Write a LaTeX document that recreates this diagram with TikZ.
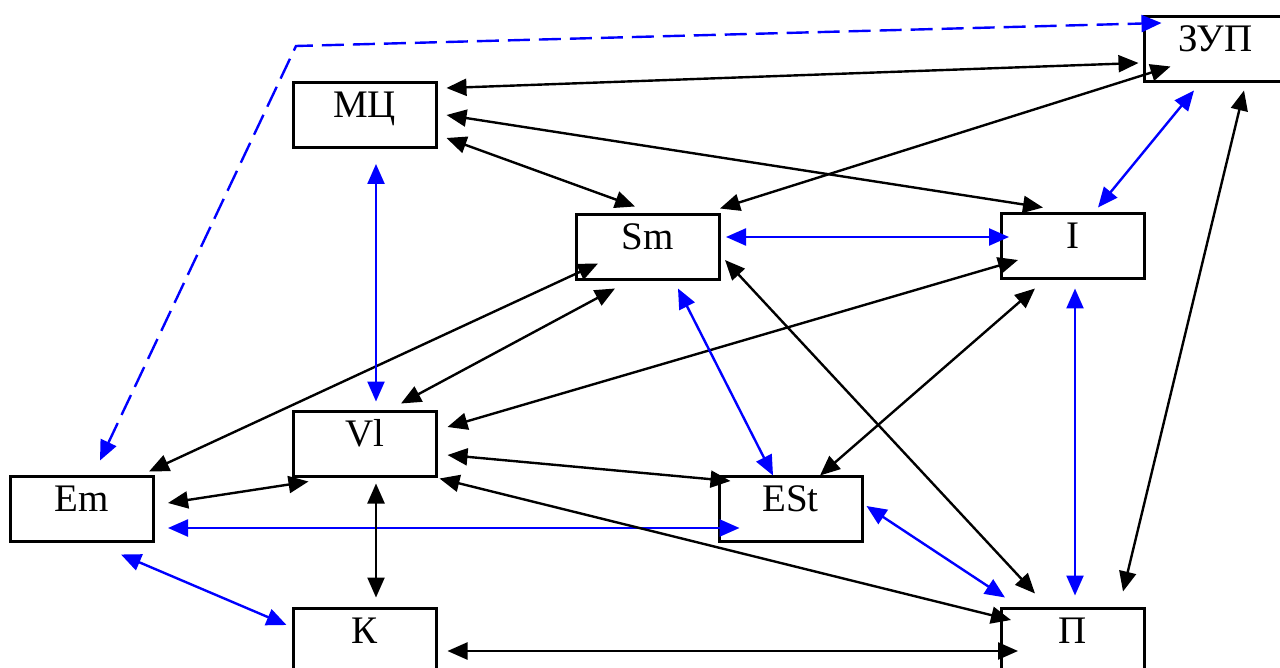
\documentclass[tikz,border=0pt]{standalone}
\usepackage{fontspec}
\setmainfont{Liberation Serif}
\usetikzlibrary{arrows.meta}
\tikzset{
    box/.style={
        draw,
        rectangle,
        line width=1.5pt,
        minimum width=71.5pt,
        inner xsep=0pt,
        inner ysep=0pt,
        text height=17.5pt,
        text depth=15pt,
        font=\fontsize{19.5}{23}\selectfont
    },
    link/.style={
        {Triangle[length=10pt, width=8.5pt]}-{Triangle[length=10pt, width=8.5pt]},
        line width=1.2pt
    },
    bluelink/.style={
        link,
        blue
    }
}

\begin{document}
\begin{tikzpicture}[x=0.5pt, y=-0.5pt]
    \useasboundingbox (0,0) rectangle (1280,668);
    \clip (0,0) rectangle (1280,668);

    \node[box] (zup) at (1215.5,49.5) {ЗУП};
    \node[box] (mc) at (364.5,115) {МЦ};
    \node[box] (sm) at (648,247.5) {Sm};
    \node[box] (i) at (1073,246.5) {I};
    \node[box] (vl) at (364.5,443.5) {Vl};
    \node[box] (em) at (82,508.5) {Em};
    \node[box] (est) at (790.5,508.5) {ESt};
    \node[box] (k) at (364.5,640.5) {К};
    \node[box] (p) at (1073,640.5) {П};

    \coordinate (bend) at (296,46);
    \draw[bluelink, dash pattern=on 11pt off 4.5pt] ([shift={(18,-14)}]em.north) -- (bend) -- ([shift={(19,-26.5)}]zup.west); % dashed line round the top

    \draw[link] ([shift={(9,-27)}]mc.east) -- ([shift={(-4,13.5)}]zup.west);
    \draw[link] ([shift={(9,0)}]mc.east) -- ([shift={(-30,-5)}]i.north);
    \draw[link] ([shift={(9,23)}]mc.east) -- ([shift={(-13,-7)}]sm.north);
    \draw[link] ([shift={(-1,-5)}]sm.north east) -- ([shift={(28,-17)}]zup.south west);
    \draw[bluelink] ([shift={(25,-5)}]i.north) -- ([shift={(-21.5,7)}]zup.south);
    \draw[link] ([shift={(50,-15)}]p.north) -- ([shift={(28.5,7)}]zup.south);
    \draw[bluelink] ([shift={(5,-10.5)}]sm.east) -- ([shift={(9,-9.5)}]i.west);
    \draw[link] ([shift={(-6,-3)}]em.north east) -- ([shift={(23,-18)}]sm.south west);
    \draw[link] ([shift={(36.5,-6)}]vl.north) -- ([shift={(-33,7)}]sm.south);
    \draw[link] ([shift={(10,-16.5)}]vl.east) -- ([shift={(18,13.5)}]i.west);
    \draw[bluelink] ([shift={(11.5,15)}]mc.south) -- ([shift={(11.5,-8)}]vl.north);
    \draw[bluelink] ([shift={(30,7)}]sm.south) -- ([shift={(-17.5,1)}]est.north);
    \draw[link] ([shift={(29.5,1)}]est.north) -- ([shift={(-38,8)}]i.south);
    \draw[bluelink] ([shift={(2,8)}]i.south) -- ([shift={(2,-11)}]p.north);
    \draw[link] ([shift={(4,12.5)}]sm.east) -- ([shift={(-38,-13)}]p.north);
    \draw[link] ([shift={(10,11.5)}]vl.east) -- ([shift={(13,-27.5)}]est.west);
    \draw[link] ([shift={(13,-5.5)}]em.east) -- ([shift={(17,4)}]vl.south west);
    \draw[bluelink] ([shift={(13,19.5)}]em.east) -- ([shift={(22,19.5)}]est.west);
    \draw[link] ([shift={(2,1)}]vl.south east) -- ([shift={(11,-20.5)}]p.west);
    \draw[link] ([shift={(11.5,6)}]vl.south) -- ([shift={(11.5,-9)}]k.north);
    \draw[bluelink] ([shift={(39,12)}]em.south) -- ([shift={(-5,-15.5)}]k.west);
    \draw[bluelink] ([shift={(3,-2.5)}]est.east) -- ([shift={(5,-9)}]p.north west);
    \draw[link] ([shift={(10,10.5)}]k.east) -- ([shift={(18,10.5)}]p.west);
\end{tikzpicture}
\end{document}
